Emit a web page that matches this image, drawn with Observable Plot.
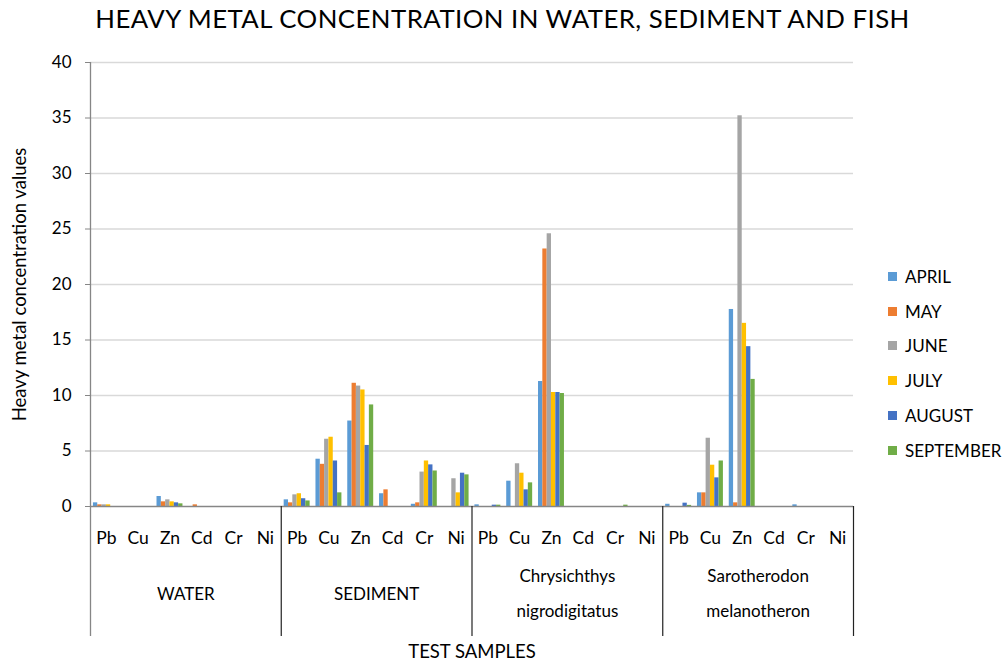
<!DOCTYPE html>
<html>
<head>
<meta charset="utf-8">
<script src="https://cdn.jsdelivr.net/npm/d3@7"></script>
<script src="https://cdn.jsdelivr.net/npm/@observablehq/plot@0.6"></script>
<style>
  body { margin: 0; background: #fff; font-family: Lato, "Open Sans", sans-serif; }
  #wrap { position: relative; width: 1005px; height: 663px; overflow: hidden; }
  #title { position: absolute; top: 3px; left: 0; width: 1005px; text-align: center; font-size: 25.8px; color: #000; letter-spacing: 0.45px; }
  #legend { position: absolute; left: 888px; top: 259px; }
  .li { height: 34.8px; display: flex; align-items: center; font-size: 17px; color: #000; }
  .sw { width: 9px; height: 9px; margin-right: 8px; }
  svg { position: absolute; left: 0; top: 0; }
</style>
</head>
<body>
<div id="wrap">
  <div id="title"></div>
  <div id="legend"></div>
</div>
<script>
const titleText = "HEAVY METAL CONCENTRATION IN WATER, SEDIMENT AND FISH";
const groups = ["WATER", "SEDIMENT", "Chrysichthys\nnigrodigitatus", "Sarotherodon\nmelanotheron"];
const metals = ["Pb", "Cu", "Zn", "Cd", "Cr", "Ni"];
const months = ["APRIL", "MAY", "JUNE", "JULY", "AUGUST", "SEPTEMBER"];
const colors = ["#5B9BD5", "#ED7D31", "#A5A5A5", "#FFC000", "#4472C4", "#70AD47"];
const yTicks = [0, 5, 10, 15, 20, 25, 30, 35, 40];

// values per month, in order: WATER Pb..Ni, SEDIMENT Pb..Ni, Chrysichthys Pb..Ni, Sarotherodon Pb..Ni
const april     = [0.33, 0, 0.9, 0, 0, 0,   0.6, 4.26, 7.7, 1.15, 0.2, 0,    0.15, 2.28, 11.26, 0, 0, 0,   0.2, 1.23, 17.75, 0, 0.15, 0];
const may       = [0.15, 0, 0.42, 0.15, 0, 0, 0.33, 3.8, 11.1, 1.5, 0.33, 0, 0, 0, 23.2, 0, 0, 0,         0, 1.23, 0.33, 0, 0, 0];
const june      = [0.15, 0, 0.6, 0, 0, 0,   1.05, 6.06, 10.85, 0, 3.1, 2.5, 0, 3.85, 24.57, 0, 0, 0,      0, 6.15, 35.2, 0, 0, 0];
const july      = [0.15, 0, 0.42, 0, 0, 0,  1.15, 6.24, 10.5, 0, 4.1, 1.23, 0, 3.0, 10.27, 0, 0, 0,       0, 3.72, 16.5, 0, 0, 0];
const august    = [0, 0, 0.33, 0, 0, 0,     0.7, 4.1, 5.5, 0, 3.75, 3.0,    0.12, 1.5, 10.27, 0, 0, 0,    0.3, 2.58, 14.4, 0, 0, 0];
const september = [0, 0, 0.24, 0, 0, 0,     0.5, 1.23, 9.15, 0, 3.2, 2.85,  0.12, 2.13, 10.18, 0, 0.12, 0, 0.1, 4.1, 11.45, 0, 0, 0];
const series = [april, may, june, july, august, september];

const rows = [];
series.forEach((vals, mi) => vals.forEach((v, ci) => rows.push({
  month: months[mi], mi, ci, group: groups[Math.floor(ci / metals.length)], metal: metals[ci % metals.length], value: v
})));
const nCat = groups.length * metals.length;
const centers = d3.range(nCat).map(i => i + 0.5);
const boundaries = d3.range(1, groups.length + 1).map(g => g * metals.length);
const bw = 0.136; // bar width as a fraction of a category

document.getElementById("title").textContent = titleText;
const legend = document.getElementById("legend");
months.forEach((m, i) => {
  const row = document.createElement("div");
  row.className = "li";
  row.innerHTML = `<span class="sw" style="background:${colors[i]}"></span><span>${m}</span>`;
  legend.appendChild(row);
});

const chart = Plot.plot({
  width: 1005,
  height: 663,
  marginLeft: 90,
  marginRight: 152,
  marginTop: 62,
  marginBottom: 157,
  style: { fontFamily: "Lato, 'Open Sans', sans-serif", fontSize: "17px", color: "#000", background: "transparent", overflow: "visible" },
  x: { domain: [0, nCat], axis: null },
  y: { domain: [0, 40], axis: null },
  color: { domain: months, range: colors },
  marks: [
    Plot.gridY(yTicks.filter(t => t > 0), { stroke: "#d9d9d9", strokeOpacity: 1, strokeWidth: 1.3 }),
    Plot.axisY(yTicks, { tickSize: 5, tickPadding: 14, fontSize: 17, label: null, stroke: "#868686" }),
    Plot.rectY(rows, {
      x1: d => d.ci + 0.5 + (d.mi - 3) * bw,
      x2: d => d.ci + 0.5 + (d.mi - 2) * bw,
      y: "value",
      fill: "month"
    }),
    Plot.ruleY([0], { stroke: "#868686", strokeWidth: 1.6 }),
    Plot.ruleX([0], { stroke: "#868686", strokeWidth: 1.3, insetBottom: -130 }),
    Plot.ruleX(boundaries, { y1: 0, y2: 0, insetBottom: -130, stroke: "#222", strokeWidth: 1.2 }),
    Plot.axisX(centers, { tickSize: 0, tickPadding: 25, fontSize: 17.5, label: null, tickFormat: d => metals[Math.floor(d) % metals.length] }),
    Plot.text(groups, { x: (d, i) => i * metals.length + metals.length / 2, frameAnchor: "bottom", dy: 82, lineAnchor: "middle", lineHeight: 2.05, fontSize: 17 }),
    Plot.text(["TEST SAMPLES"], { frameAnchor: "bottom", dy: 151, fontSize: 18.5 }),
    Plot.text(["Heavy metal concentration values"], { frameAnchor: "left", textAnchor: "middle", rotate: -90, dx: -70, fontSize: 18.5 })
  ]
});
document.getElementById("wrap").prepend(chart);
</script>
</body>
</html>
